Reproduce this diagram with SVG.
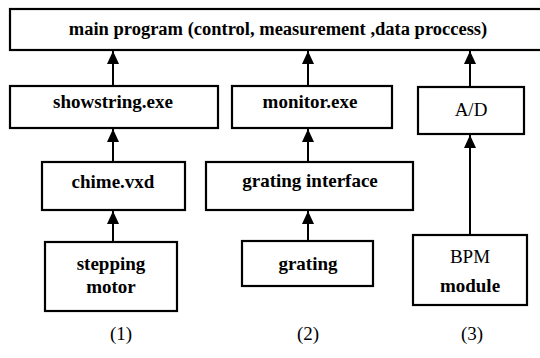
<svg xmlns="http://www.w3.org/2000/svg" width="540" height="358" viewBox="0 0 540 358">
<defs>
<marker id="ah" viewBox="0 0 13 12" refX="13" refY="6" markerWidth="13" markerHeight="12" markerUnits="userSpaceOnUse" orient="auto">
<path d="M0,0 L13,6 L0,12 Z" fill="#000"/>
</marker>
<style>
rect.b{fill:#fff;stroke:#000;stroke-width:2.2}
text{font-family:"Liberation Serif","Times New Roman",serif;font-size:19px;text-anchor:middle;fill:#000}
text.bd{font-weight:bold}
line.c{stroke:#000;stroke-width:2;marker-end:url(#ah)}
</style>
</defs>
<rect width="540" height="358" fill="#fff"/>
<g id="connectors">
<line class="c" x1="113" y1="86" x2="113" y2="51"/>
<line class="c" x1="113" y1="162" x2="113" y2="129"/>
<line class="c" x1="113" y1="242" x2="113" y2="211"/>
<line class="c" x1="308" y1="86" x2="308" y2="51"/>
<line class="c" x1="308" y1="162" x2="308" y2="129"/>
<line class="c" x1="308" y1="241" x2="308" y2="211"/>
<line class="c" x1="470" y1="87" x2="470" y2="51"/>
<line class="c" x1="470" y1="235" x2="470" y2="135"/>
</g>
<g id="main">
<rect class="b" x="10" y="9" width="532" height="41"/>
<text class="bd" x="278" y="35" style="font-size:18.5px">main program (control, measurement ,data proccess)</text>
</g>
<g id="showstring">
<rect class="b" x="10" y="86" width="208" height="42"/>
<text class="bd" x="113" y="108">showstring.exe</text>
</g>
<g id="monitor">
<rect class="b" x="232" y="86" width="160" height="42"/>
<text class="bd" x="310" y="108">monitor.exe</text>
</g>
<g id="ad">
<rect class="b" x="418" y="87" width="106" height="47"/>
<text x="471" y="116">A/D</text>
</g>
<g id="chime">
<rect class="b" x="42" y="162" width="143" height="48"/>
<text class="bd" x="113" y="188">chime.vxd</text>
</g>
<g id="grating-interface">
<rect class="b" x="206" y="162" width="207" height="48"/>
<text class="bd" x="310" y="187">grating interface</text>
</g>
<g id="stepping-motor">
<rect class="b" x="45" y="242" width="132" height="69"/>
<text class="bd" x="111" y="270">stepping</text>
<text class="bd" x="111" y="293">motor</text>
</g>
<g id="grating">
<rect class="b" x="242" y="241" width="131" height="45"/>
<text class="bd" x="308" y="270">grating</text>
</g>
<g id="bpm">
<rect class="b" x="413" y="235" width="114" height="70"/>
<text x="470" y="263">BPM</text>
<text class="bd" x="470" y="292">module</text>
</g>
<g id="labels">
<text x="121" y="340">(1)</text>
<text x="308" y="340">(2)</text>
<text x="472" y="340">(3)</text>
</g>
</svg>
